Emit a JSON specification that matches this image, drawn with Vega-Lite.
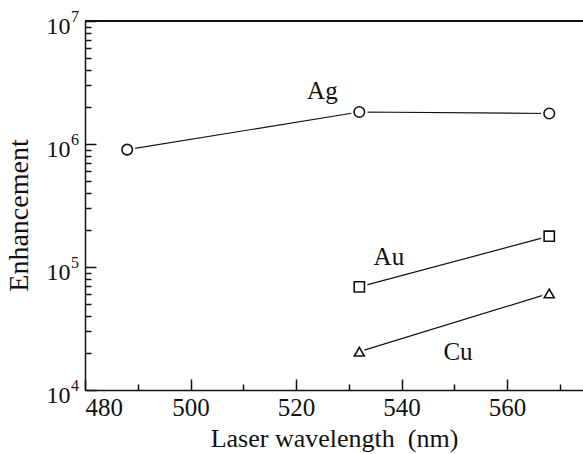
{
  "$schema": "https://vega.github.io/schema/vega-lite/v6.json",
  "width": 498,
  "height": 369,
  "autosize": {"type": "none"},
  "padding": {"left": 85, "top": 21, "right": 0, "bottom": 64},
  "background": "white",
  "config": {"view": {"stroke": null}, "axis": {"grid": false}},
  "data": {"values": [
    {"metal": "Ag", "wavelength": 488, "enhancement": 900000},
    {"metal": "Ag", "wavelength": 532, "enhancement": 1820000},
    {"metal": "Ag", "wavelength": 568, "enhancement": 1770000},
    {"metal": "Au", "wavelength": 532, "enhancement": 69000},
    {"metal": "Au", "wavelength": 568, "enhancement": 178000},
    {"metal": "Cu", "wavelength": 532, "enhancement": 20500},
    {"metal": "Cu", "wavelength": 568, "enhancement": 61000}
  ]},
  "resolve": {"axis": {"x": "independent", "y": "independent"}},
  "layer": [
    {
      "mark": {"type": "line", "color": "#111", "strokeWidth": 1.2},
      "encoding": {
        "x": {
          "field": "wavelength", "type": "quantitative",
          "scale": {"domain": [480, 574.4], "nice": false, "zero": false},
          "axis": {
            "orient": "bottom",
            "values": [480, 500, 520, 540, 560],
            "ticks": true,
            "tickSize": -11,
            "tickColor": "#111",
            "tickWidth": 1.5,
            "domainColor": "#111",
            "domainWidth": 1.5,
            "labelFont": "Liberation Serif",
            "labelColor": "#111",
            "labelFontSize": 25,
            "labelPadding": 16,
            "title": "Laser wavelength \u00a0(nm)",
            "titleFont": "Liberation Serif",
            "titleColor": "#111",
            "titleFontWeight": "normal",
            "titleFontSize": 26,
            "titleBaseline": "alphabetic",
            "titleY": 56
          }
        },
        "y": {
          "field": "enhancement", "type": "quantitative",
          "scale": {"type": "log", "domain": [10000, 10000000], "nice": false},
          "axis": {
            "orient": "left",
            "values": [10000, 100000, 1000000, 10000000],
            "ticks": true,
            "tickSize": -11,
            "tickColor": "#111",
            "tickWidth": 1.5,
            "domainColor": "#111",
            "domainWidth": 1.5,
            "labelExpr": "'10'",
            "labelFont": "Liberation Serif",
            "labelColor": "#111",
            "labelFontSize": 24,
            "labelPadding": 26,
            "labelBaseline": "middle",
            "labelOffset": 5,
            "title": "Enhancement",
            "titleFont": "Liberation Serif",
            "titleColor": "#111",
            "titleFontWeight": "normal",
            "titleFontSize": 28,
            "titleBaseline": "alphabetic",
            "titleX": -58,
            "titleY": 194
          }
        },
        "detail": {"field": "metal"}
      }
    },
    {
      "mark": {"type": "point", "filled": false, "fill": "white", "fillOpacity": 1, "stroke": "white", "strokeWidth": 6, "opacity": 1},
      "encoding": {
        "x": {
          "field": "wavelength", "type": "quantitative",
          "axis": {
            "orient": "top",
            "offset": -369,
            "values": [490, 510, 530, 550, 570],
            "ticks": true,
            "tickSize": 6,
            "tickColor": "#111",
            "tickWidth": 1.5,
            "labels": false,
            "domain": false,
            "title": null
          }
        },
        "y": {
          "field": "enhancement", "type": "quantitative",
          "axis": {
            "orient": "right",
            "offset": -498,
            "values": [20000, 30000, 40000, 50000, 60000, 70000, 80000, 90000, 200000, 300000, 400000, 500000, 600000, 700000, 800000, 900000, 2000000, 3000000, 4000000, 5000000, 6000000, 7000000, 8000000, 9000000],
            "ticks": true,
            "tickSize": 6,
            "tickColor": "#111",
            "tickWidth": 1.5,
            "labels": false,
            "domain": false,
            "title": null
          }
        },
        "shape": {
          "field": "metal", "type": "nominal",
          "scale": {"domain": ["Ag", "Au", "Cu"], "range": ["circle", "square", "triangle-up"]},
          "legend": null
        },
        "size": {
          "field": "metal", "type": "nominal",
          "scale": {"domain": ["Ag", "Au", "Cu"], "range": [110, 100, 200]},
          "legend": null
        }
      }
    },
    {
      "mark": {"type": "point", "filled": false, "fill": "white", "fillOpacity": 1, "stroke": "#111", "strokeWidth": 1.6, "opacity": 1},
      "encoding": {
        "x": {"field": "wavelength", "type": "quantitative", "axis": null},
        "y": {"field": "enhancement", "type": "quantitative", "axis": null},
        "shape": {"field": "metal", "type": "nominal", "legend": null},
        "size": {"field": "metal", "type": "nominal", "legend": null}
      }
    },
    {
      "mark": {"type": "rule", "color": "#111", "strokeWidth": 1.5},
      "encoding": {"y": {"datum": 10000000, "type": "quantitative", "axis": null}}
    },
    {
      "data": {"values": [
        {"label": "Ag", "wavelength": 525.0, "enhancement": 2310000},
        {"label": "Au", "wavelength": 537.6, "enhancement": 103000},
        {"label": "Cu", "wavelength": 550.7, "enhancement": 17600}
      ]},
      "mark": {"type": "text", "font": "Liberation Serif", "fontSize": 25, "color": "#111", "baseline": "alphabetic", "align": "center"},
      "encoding": {
        "x": {"field": "wavelength", "type": "quantitative", "axis": null},
        "y": {"field": "enhancement", "type": "quantitative", "axis": null},
        "text": {"field": "label"}
      }
    },
    {
      "data": {"values": [
        {"exp": "4", "val": 10000},
        {"exp": "5", "val": 100000},
        {"exp": "6", "val": 1000000},
        {"exp": "7", "val": 10000000}
      ]},
      "mark": {"type": "text", "font": "Liberation Serif", "fontSize": 16, "color": "#111", "baseline": "alphabetic", "align": "left", "dx": -14, "dy": 1},
      "encoding": {
        "x": {"datum": 480, "type": "quantitative", "axis": null},
        "y": {"field": "val", "type": "quantitative", "axis": null},
        "text": {"field": "exp"}
      }
    }
  ]
}
